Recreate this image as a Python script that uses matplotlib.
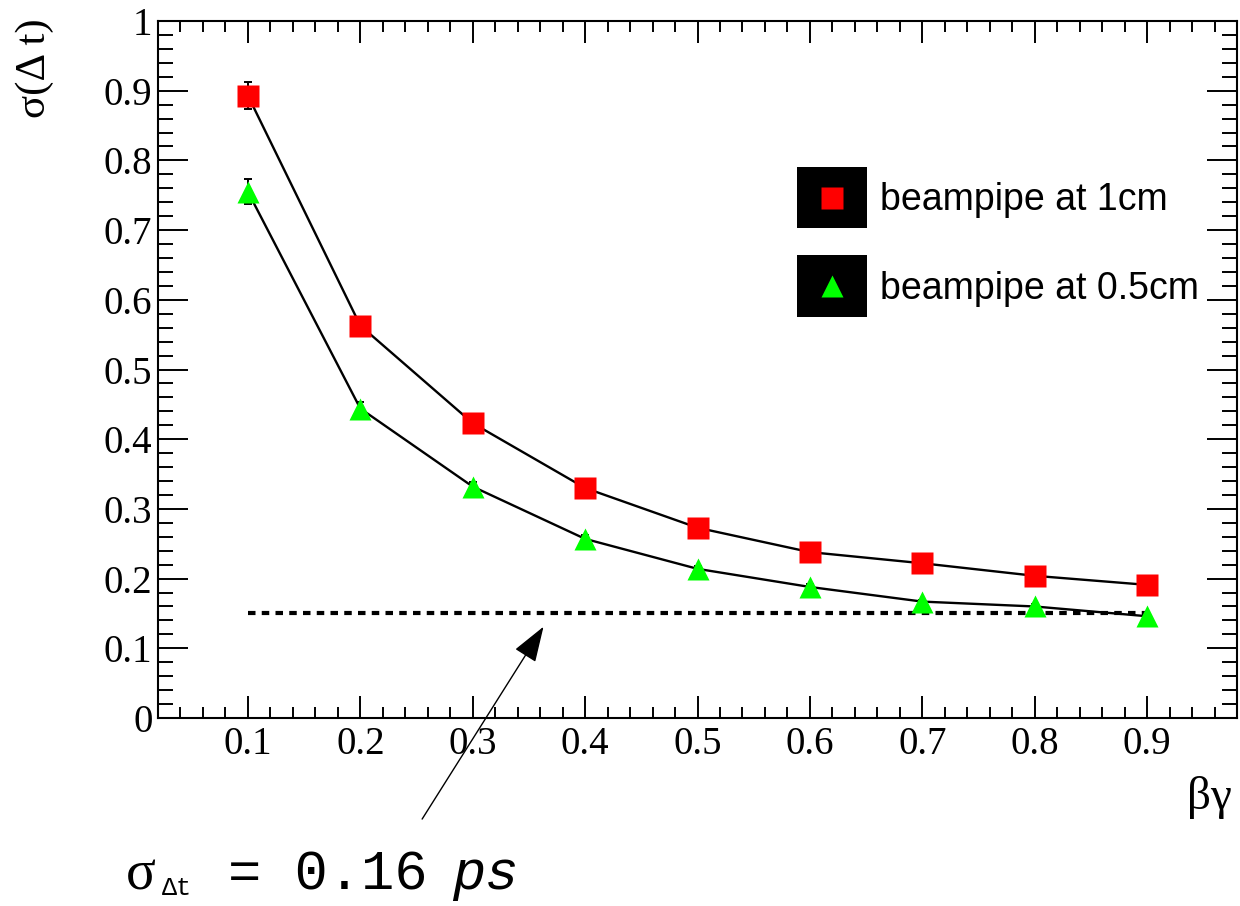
import matplotlib
matplotlib.use("Agg")
import matplotlib.pyplot as plt
from matplotlib.patches import Rectangle
from matplotlib.lines import Line2D
from matplotlib.ticker import MultipleLocator

# beta*gamma points
bg = [0.1, 0.2, 0.3, 0.4, 0.5, 0.6, 0.7, 0.8, 0.9]

# sigma(delta t), beampipe at 1 cm (red squares)
sig_1cm = [0.893, 0.563, 0.423, 0.330, 0.273, 0.238, 0.222, 0.204, 0.191]
err_1cm = [0.019, 0.010, 0.008, 0.006, 0.005, 0.004, 0.004, 0.003, 0.003]

# sigma(delta t), beampipe at 0.5 cm (green triangles)
sig_05cm = [0.755, 0.444, 0.332, 0.257, 0.214, 0.188, 0.167, 0.160, 0.146]
err_05cm = [0.018, 0.009, 0.007, 0.005, 0.004, 0.004, 0.003, 0.003, 0.003]

# target resolution line
target = 0.15
target_x = [0.1, 0.9]

xticks = [0.1, 0.2, 0.3, 0.4, 0.5, 0.6, 0.7, 0.8, 0.9]
xlabels = ["0.1", "0.2", "0.3", "0.4", "0.5", "0.6", "0.7", "0.8", "0.9"]
yticks = [0, 0.1, 0.2, 0.3, 0.4, 0.5, 0.6, 0.7, 0.8, 0.9, 1.0]
ylabels = ["0", "0.1", "0.2", "0.3", "0.4", "0.5", "0.6", "0.7", "0.8", "0.9", "1"]

W, H = 1240, 906
SERIF = "Liberation Serif"
SANS = "Liberation Sans"
MONO = "Liberation Mono"


def fpx(x, y):
    # figure pixel (from top-left) -> figure fraction
    return x / W, 1 - y / H


fig = plt.figure(figsize=(W / 100, H / 100), dpi=100)
ax = fig.add_axes([158 / W, 1 - 718 / H, 1079 / W, 697 / H])

ax.set_xlim(0.02, 0.98)
ax.set_ylim(0, 1)

# connecting lines, error bars, markers
ax.plot(bg, sig_1cm, color="black", lw=1.7, zorder=2)
ax.plot(bg, sig_05cm, color="black", lw=1.7, zorder=2)
ax.errorbar(bg, sig_1cm, yerr=err_1cm, fmt="none", ecolor="black",
            elinewidth=1.4, capsize=2.9, capthick=1.4, zorder=2.5)
ax.errorbar(bg, sig_05cm, yerr=err_05cm, fmt="none", ecolor="black",
            elinewidth=1.4, capsize=2.9, capthick=1.4, zorder=2.5)
ax.plot(bg, sig_1cm, ls="none", marker="s", ms=16.5, mfc="#ff0000",
        mec="none", zorder=3)
ax.plot(bg, sig_05cm, ls="none", marker="^", ms=16.5, mfc="#00ff00",
        mec="none", zorder=3)

# dotted target line
ax.hlines(target, target_x[0], target_x[1], colors="black", lw=3.0,
          linestyles=[(0, (1.8, 1.5))], zorder=1.5)

# ROOT style ticks on all sides
ax.set_xticks(xticks)
ax.set_xticklabels(xlabels, fontfamily=SERIF, fontsize=28)
ax.set_yticks(yticks)
ax.set_yticklabels(ylabels, fontfamily=SERIF, fontsize=28)
ax.xaxis.set_minor_locator(MultipleLocator(0.02))
ax.yaxis.set_minor_locator(MultipleLocator(0.02))
ax.tick_params(axis="x", which="major", direction="in", length=15.8,
               width=1.4, top=True, pad=6)
ax.tick_params(axis="x", which="minor", direction="in", length=8,
               width=1.4, top=True)
ax.tick_params(axis="y", which="major", direction="in", length=21.6,
               width=1.4, right=True, pad=4)
ax.tick_params(axis="y", which="minor", direction="in", length=10.8,
               width=1.4, right=True)
for s in ax.spines.values():
    s.set_linewidth(1.5)

# axis titles
fig.text(*fpx(35, 18), "σ(Δ t)", rotation=90, ha="center", va="top",
         fontfamily=SERIF, fontsize=31)
fig.text(*fpx(1232, 776), "βγ", ha="right", va="top",
         fontfamily=SERIF, fontsize=34)

# legend drawn ROOT-like: black filled boxes with the marker inside
leg_rows = [("beampipe at 1cm", "s", "#ff0000", 167, 228),
            ("beampipe at 0.5cm", "^", "#00ff00", 255, 317)]
for label, mk, col, y0, y1 in leg_rows:
    x0, yb = fpx(797, y1)
    fig.add_artist(Rectangle((x0, yb), 70 / W, (y1 - y0) / H,
                             transform=fig.transFigure, facecolor="black",
                             edgecolor="none"))
    mx, my = fpx(832, (y0 + y1) / 2)
    fig.add_artist(Line2D([mx], [my], marker=mk, ms=16.5, mfc=col, mec="none",
                          ls="none", transform=fig.transFigure))
    fig.text(*fpx(880, (y0 + y1) / 2 + 3), label, ha="left", va="center",
             fontfamily=SANS, fontsize=27)

# arrow pointing at the target line
ax.annotate("", xy=(0.363, 0.131), xytext=(0.255, -0.145),
            xycoords="data", textcoords="data", annotation_clip=False,
            arrowprops=dict(arrowstyle="-|>,head_length=1.6,head_width=0.55",
                            mutation_scale=14, color="black", lw=1,
                            shrinkA=0, shrinkB=0))

# annotation text below the plot
fig.text(*fpx(126, 889), "σ", ha="left", va="baseline",
         fontfamily=SERIF, fontsize=40)
fig.text(*fpx(162, 895), "Δt", ha="left", va="baseline",
         fontfamily=MONO, fontsize=18)
fig.text(*fpx(228, 889), "= 0.16", ha="left", va="baseline",
         fontfamily=MONO, fontsize=40)
fig.text(*fpx(452, 889), "ps", ha="left", va="baseline",
         fontfamily=MONO, fontstyle="italic", fontsize=40)

fig.savefig("out.png", dpi=100)
